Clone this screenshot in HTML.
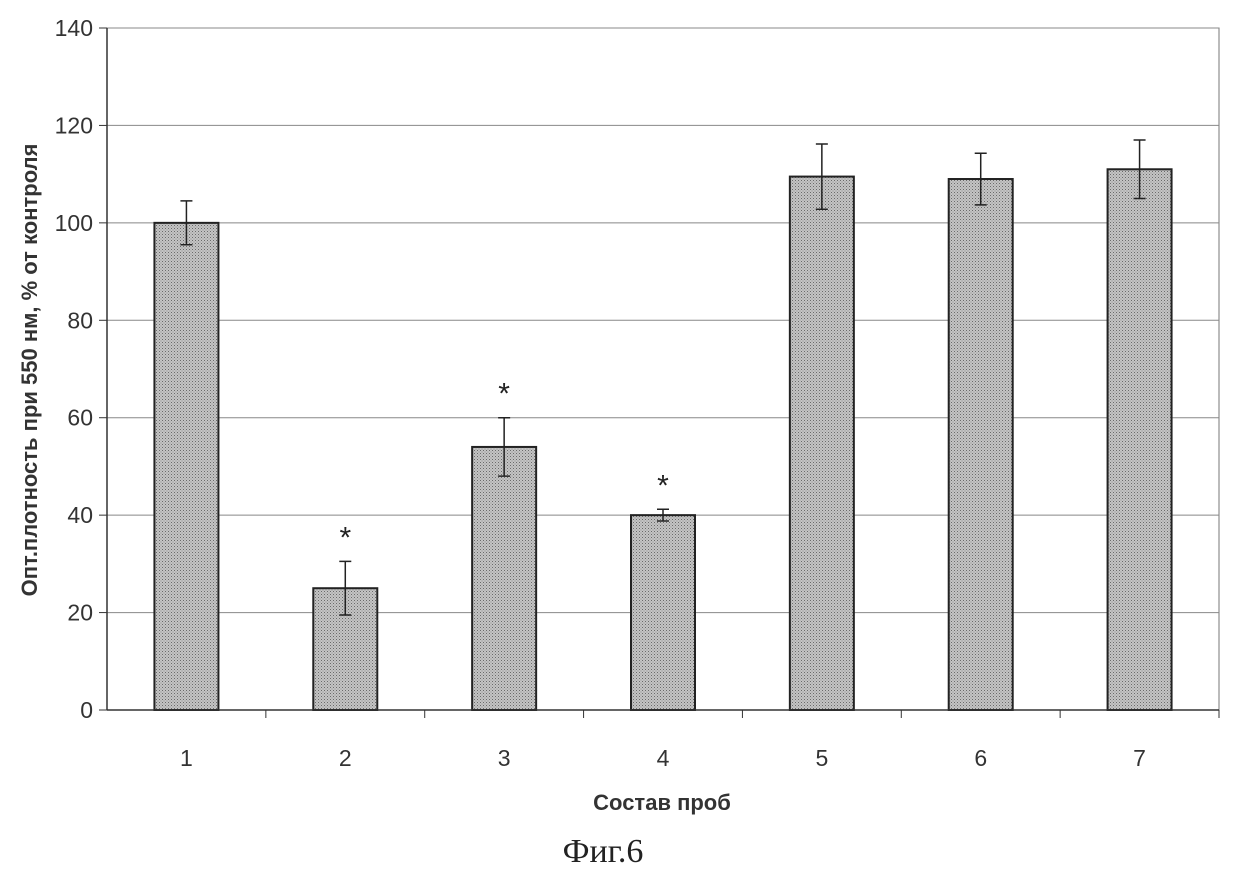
<!DOCTYPE html>
<html><head><meta charset="utf-8"><style>
body{margin:0;background:#fff;width:1236px;height:888px;overflow:hidden;font-family:"Liberation Sans",sans-serif}
svg{display:block}
</style></head><body>
<svg id="chart" width="1236" height="888" xmlns="http://www.w3.org/2000/svg">
<defs><pattern id="dots" width="3" height="3" patternUnits="userSpaceOnUse"><rect width="3" height="3" fill="#c4c4c4"/><rect width="1" height="1" fill="#6a6a6a"/><rect x="1.5" y="1.5" width="1" height="1" fill="#8a8a8a"/></pattern></defs>
<g id="grid"></g><g id="bars"></g><g id="axes"></g>
<text transform="translate(37,370) rotate(-90)" text-anchor="middle" font-size="22" font-weight="bold" fill="#333">Опт.плотность при 550 нм, % от контроля</text>
<text x="662" y="810" text-anchor="middle" font-size="22" font-weight="bold" fill="#333">Состав проб</text>
<text x="603" y="862" text-anchor="middle" font-size="34" font-family="Liberation Serif, serif" fill="#222">Фиг.6</text>
</svg>
<script>
const categories=["1","2","3","4","5","6","7"];
const values=[100,25,54,40,109.5,109,111];
const errors=[4.5,5.5,6,1.2,6.7,5.3,6];
const significant=[false,true,true,true,false,false,false];
const yTicks=[0,20,40,60,80,100,120,140];
const L=107,R=1219,T=28,B=710,yMax=140;
const y=v=>B-(v/yMax)*(B-T);
const step=(R-L)/categories.length;
const xc=i=>L+step*(i+0.5);
const NS="http://www.w3.org/2000/svg";
function mk(tag,attrs,parent){const e=document.createElementNS(NS,tag);for(const k in attrs)e.setAttribute(k,attrs[k]);parent.appendChild(e);return e;}
const grid=document.getElementById('grid'),bars=document.getElementById('bars'),axes=document.getElementById('axes');
mk('rect',{x:L,y:T,width:R-L,height:B-T,fill:'none',stroke:'#777','stroke-width':1},grid);
yTicks.forEach(t=>{
 const g=mk('line',{x1:L,x2:R,y1:y(t),y2:y(t),stroke:'#888','stroke-width':1},grid);
 
 
 mk('line',{x1:L-8,x2:L,y1:y(t),y2:y(t),stroke:'#333'},axes);
 const tx=mk('text',{x:L-14,y:y(t)+8,'text-anchor':'end','font-size':23,fill:'#333'},axes);
 tx.textContent=t;
 
 
});
mk('line',{x1:L,x2:L,y1:T,y2:B,stroke:'#333','stroke-width':1.5},axes);
mk('line',{x1:L,x2:R,y1:B,y2:B,stroke:'#333','stroke-width':1.5},axes);
categories.forEach((c,i)=>{
 mk('line',{x1:L+step*(i+1),x2:L+step*(i+1),y1:B,y2:B+8,stroke:'#333'},axes);
 const tx=mk('text',{x:xc(i),y:766,'text-anchor':'middle','font-size':23,fill:'#333'},axes);
 tx.textContent=c;
 
 
 const bw=64;
 const r=mk('rect',{x:xc(i)-bw/2,y:y(values[i]),width:bw,height:B-y(values[i]),fill:'url(#dots)',stroke:'#222','stroke-width':2},bars);
 
 
 const hi=y(values[i]+errors[i]),lo=y(values[i]-errors[i]);
 const eb=mk('path',{d:`M${xc(i)},${hi}V${lo}M${xc(i)-6},${hi}H${xc(i)+6}M${xc(i)-6},${lo}H${xc(i)+6}`,stroke:'#222','stroke-width':1.5,fill:'none'},bars);
 
 
 if(significant[i]){
  const s=mk('text',{x:xc(i),y:hi-14,'text-anchor':'middle','font-size':30,fill:'#222'},bars);
  s.textContent='*';
  
  
 }
});
</script>
</body></html>
